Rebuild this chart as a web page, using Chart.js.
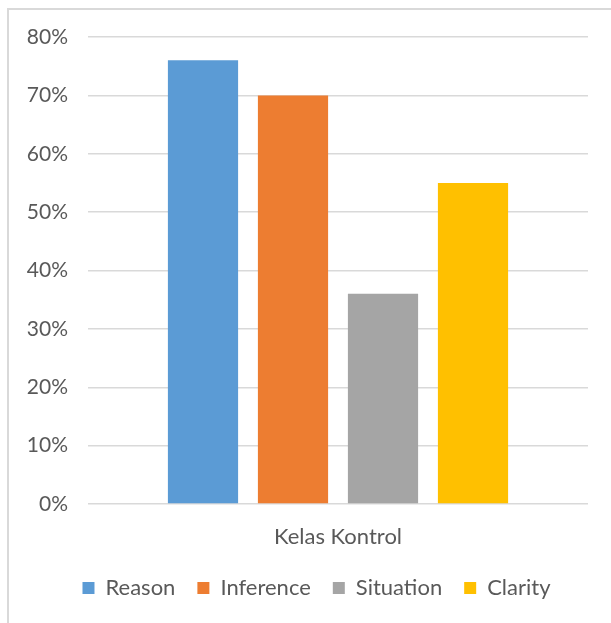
<!DOCTYPE html>
<html>
<head>
<meta charset="utf-8">
<script src="https://cdn.jsdelivr.net/npm/chart.js@4/dist/chart.umd.min.js"></script>
<style>
  body { margin: 0; background: #fff; }
  #wrap { position: relative; width: 611px; height: 623px; overflow: hidden; }
  #frame { position: absolute; left: 7px; top: 8px; width: 700px; height: 700px; border: 2px solid #d9d9d9; box-sizing: border-box; }
  canvas { position: absolute; left: 0; top: 0; }
</style>
</head>
<body>
<div id="wrap">
  <div id="frame"></div>
  <canvas id="chart" width="611" height="623"></canvas>
</div>
<script>
// data
let categories = ["Kelas Kontrol"];
let seriesNames = ["Reason", "Inference", "Situation", "Clarity"];
let seriesValues = [[76], [70], [36], [55]];
let seriesColors = ["#5B9BD5", "#ED7D31", "#A5A5A5", "#FFC000"];
let yTicks = [0, 10, 20, 30, 40, 50, 60, 70, 80];

let fontFamily = "Lato, 'Open Sans', sans-serif";
let textColor = "#595959";

let datasets = seriesNames.map((name, i) => ({
    label: name,
    data: seriesValues[i],
    backgroundColor: seriesColors[i],
    borderWidth: 0,
    categoryPercentage: 0.72,
    barPercentage: 0.78
}));

let ctx = document.getElementById("chart").getContext("2d");
new Chart(ctx, {
    type: "bar",
    data: { labels: categories, datasets: datasets },
    options: {
        responsive: false,
        animation: false,
        layout: { padding: { top: 37, right: 0, bottom: 14, left: 22 } },
        plugins: {
            tooltip: { enabled: false },
            legend: {
                position: "bottom",
                labels: {
                    boxWidth: 12,
                    boxHeight: 12,
                    padding: 22,
                    color: textColor,
                    font: { family: fontFamily, size: 22 }
                }
            }
        },
        scales: {
            x: {
                afterFit: function (scale) { scale.height = 51; },
                grid: { display: false, drawTicks: false },
                border: { display: false },
                ticks: { color: textColor, padding: 20, font: { family: fontFamily, size: 22 } }
            },
            y: {
                min: 0,
                max: 80,
                afterFit: function (scale) { scale.width = 66; },
                afterBuildTicks: function (scale) { scale.ticks = yTicks.map(v => ({ value: v })); },
                grid: { color: "#d9d9d9", lineWidth: 1.5, drawTicks: false },
                border: { display: false },
                ticks: {
                    color: textColor,
                    padding: 20,
                    font: { family: fontFamily, size: 21 },
                    callback: v => v + "%"
                }
            },
            // empty right-hand spacer so the plot ends where the original does
            spacer: {
                position: "right",
                afterFit: function (scale) { scale.width = 23; },
                grid: { display: false, drawTicks: false },
                border: { display: false },
                ticks: { display: false }
            }
        }
    }
});
</script>
</body>
</html>
